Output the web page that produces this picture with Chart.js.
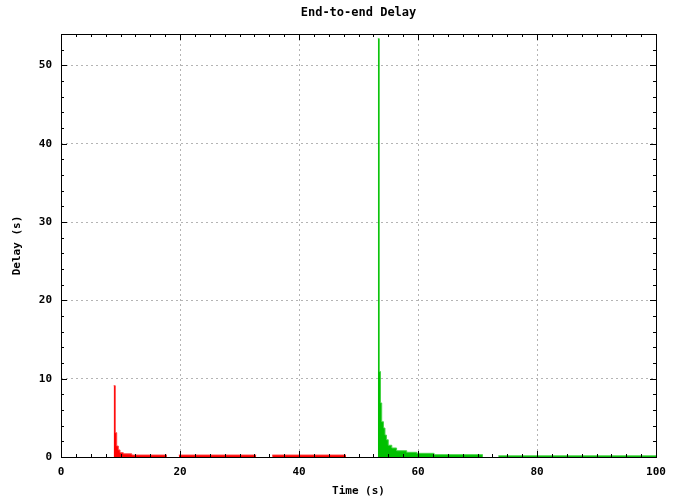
<!DOCTYPE html>
<html>
<head>
<meta charset="utf-8">
<title>End-to-end Delay</title>
<script src="https://cdn.jsdelivr.net/npm/chart.js@4"></script>
<style>
  html, body { margin: 0; padding: 0; background: #fff; }
  #chart-delay { display: block; }
</style>
</head>
<body>
<canvas id="chart-delay" width="684" height="499"></canvas>
<script>
'use strict';

// time (s) where each step starts, and delay (s) held until the next time; null = no packets
const redTime  = [8.85, 9.12, 9.36, 9.63, 9.92, 10.47, 11.9, 17.8, 17.9, 19.8, 32.8, 32.9, 35.5, 47.9];
const redDelay = [9.1,  3.1,  1.4,  0.9,  0.55, 0.4,   0.25, 0.25, null, 0.25, 0.25, null, 0.25, 0.25];

const greenTime  = [53.25, 53.5, 53.7, 53.9, 54.2, 54.45, 54.7, 55.0, 55.6, 56.4, 58.1, 59.8, 62.7, 70.9, 71.0, 73.5, 100];
const greenDelay = [53.4,  10.9, 6.9,  4.5,  3.7,  2.8,   2.2,  1.5,  1.15, 0.8,  0.6,  0.47, 0.3,  0.3,  null, 0.15, 0.15];

const xTicks = [0, 20, 40, 60, 80, 100];
const yTicks = [0, 10, 20, 30, 40, 50];

const FONT = "'DejaVu Sans Mono', 'Liberation Mono', monospace";

const toPoints = (xs, ys) => xs.map((x, i) => ({ x, y: ys[i] }));

// gnuplot-like frame with inward major/minor ticks on all four sides
const framePlugin = {
  id: 'frame',
  afterDatasetsDraw(chart) {
    const { ctx, chartArea: a, scales: { x, y } } = chart;
    ctx.save();
    ctx.strokeStyle = '#000';
    ctx.lineWidth = 1;
    ctx.beginPath();
    for (let v = 0; v <= 100.001; v += 2.5) {
      const px = Math.round(x.getPixelForValue(v)) + 0.5;
      const len = v % 20 === 0 ? 6 : 3;
      ctx.moveTo(px, a.bottom); ctx.lineTo(px, a.bottom - len);
      ctx.moveTo(px, a.top);    ctx.lineTo(px, a.top + len);
    }
    for (let v = 0; v <= 54; v += 2) {
      const py = Math.round(y.getPixelForValue(v)) + 0.5;
      const len = v % 10 === 0 ? 6 : 3;
      ctx.moveTo(a.left, py);  ctx.lineTo(a.left + len, py);
      ctx.moveTo(a.right, py); ctx.lineTo(a.right - len, py);
    }
    ctx.stroke();
    ctx.strokeRect(Math.round(a.left) + 0.5, Math.round(a.top) + 0.5,
      Math.round(a.right - a.left), Math.round(a.bottom - a.top));
    ctx.restore();
  }
};

function renderChart() {
  const ctx = document.getElementById('chart-delay').getContext('2d');
  Chart.defaults.color = '#000';

  const grid = { color: '#b4b4b4', lineWidth: 1, drawTicks: false };
  const border = { display: false, dash: [2, 3] };
  const tickFont = { family: FONT, size: 11, weight: 'bold' };

  new Chart(ctx, {
    type: 'line',
    data: {
      datasets: [
        {
          label: 'flow 1',
          data: toPoints(redTime, redDelay),
          stepped: 'before',
          borderColor: 'rgba(255,60,60,.95)',
          backgroundColor: '#ff0000',
          borderWidth: 1,
          pointRadius: 0,
          spanGaps: false,
          fill: 'origin'
        },
        {
          label: 'flow 2',
          data: toPoints(greenTime, greenDelay),
          stepped: 'before',
          borderColor: 'rgba(70,210,70,.95)',
          backgroundColor: '#00c000',
          borderWidth: 1,
          pointRadius: 0,
          spanGaps: false,
          fill: 'origin'
        }
      ]
    },
    options: {
      responsive: false,
      animation: false,
      layout: { padding: { left: 0, right: 28, top: 0, bottom: 0 } },
      plugins: {
        legend: { display: false },
        tooltip: { enabled: false },
        title: {
          display: true,
          text: 'End-to-end Delay',
          fullSize: false,
          font: { family: FONT, size: 12, weight: 'bold', lineHeight: 1.2 },
          padding: { top: 6, bottom: 13.6 }
        }
      },
      scales: {
        x: {
          type: 'linear',
          min: 0, max: 100,
          grid, border,
          afterFit: s => { s.height = 42; },
          afterBuildTicks: s => { s.ticks = xTicks.map(value => ({ value })); },
          ticks: { font: tickFont, padding: 9, maxRotation: 0 },
          title: {
            display: true, text: 'Time (s)',
            font: { family: FONT, size: 11, weight: 'bold', lineHeight: 1.2 },
            padding: { top: 0, bottom: 1.5 }
          }
        },
        y: {
          type: 'linear',
          min: 0, max: 54,
          grid, border,
          afterFit: s => { s.width = 61; },
          afterBuildTicks: s => { s.ticks = yTicks.map(value => ({ value })); },
          ticks: { font: tickFont, padding: 9 },
          title: {
            display: true, text: 'Delay (s)',
            font: { family: FONT, size: 11, weight: 'bold', lineHeight: 1.2 },
            padding: { top: 11, bottom: 0 }
          }
        }
      }
    },
    plugins: [framePlugin]
  });
}

renderChart();
</script>
</body>
</html>
